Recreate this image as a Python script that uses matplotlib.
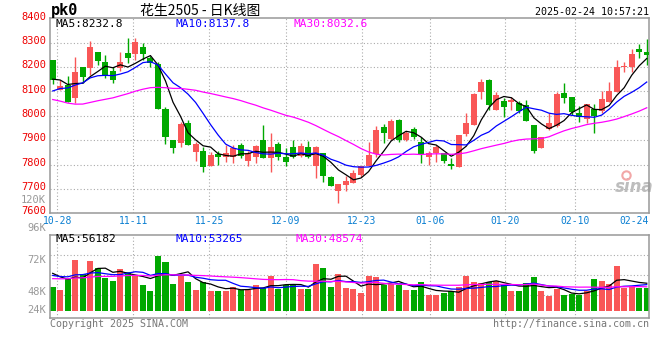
import matplotlib
matplotlib.use("Agg")
import matplotlib.pyplot as plt
import pandas as pd

# 花生2505 daily K, 10-28 .. 02-24 (80 sessions)
opens = [8229, 8106, 8126, 8072, 8199, 8195, 8260, 8219, 8184, 8195,
         8259, 8252, 8281, 8236, 8213, 8028, 7901, 7890, 7969, 7853,
         7856, 7796, 7844, 7830, 7833, 7881, 7816, 7830, 7901, 7826,
         7883, 7833, 7870, 7836, 7874, 7796, 7846, 7747, 7693, 7717,
         7726, 7758, 7795, 7844, 7952, 7904, 7983, 7901, 7946, 7893,
         7829, 7846, 7846, 7803, 7789, 7924, 7963, 8099, 8147, 8024,
         8061, 8058, 8051, 8045, 7963, 7866, 7945, 7958, 8095, 8077,
         8013, 7986, 8028, 8020, 8058, 8099, 8199, 8202, 8274, 8262]
highs = [8229, 8147, 8163, 8243, 8199, 8307, 8260, 8249, 8202, 8263,
         8320, 8320, 8300, 8245, 8219, 8038, 7901, 7976, 7983, 7892,
         7871, 7851, 7857, 7881, 7881, 7890, 7857, 7881, 7963, 7931,
         7892, 7867, 7901, 7887, 7897, 7877, 7846, 7755, 7721, 7751,
         7778, 7792, 7894, 7960, 7967, 7987, 7987, 7938, 7953, 7915,
         7857, 7881, 7846, 7826, 7922, 8010, 8093, 8150, 8150, 8099,
         8072, 8079, 8061, 8065, 7963, 7911, 8010, 8099, 8133, 8079,
         8040, 8049, 8047, 8102, 8140, 8229, 8222, 8273, 8295, 8314]
lows = [8129, 8106, 8058, 8054, 8133, 8167, 8210, 8154, 8133, 8185,
        8215, 8229, 8229, 8199, 8028, 7883, 7846, 7874, 7881, 7816,
        7771, 7796, 7799, 7812, 7808, 7826, 7792, 7806, 7826, 7771,
        7819, 7792, 7826, 7833, 7826, 7744, 7730, 7710, 7644, 7693,
        7723, 7748, 7795, 7833, 7887, 7901, 7894, 7898, 7905, 7808,
        7799, 7812, 7805, 7781, 7789, 7918, 7963, 8069, 8024, 8024,
        7994, 8024, 8010, 7980, 7849, 7866, 7942, 7956, 8054, 8004,
        7976, 7972, 7928, 8010, 8058, 8099, 8181, 8181, 8236, 8207]
closes = [8147, 8122, 8058, 8180, 8161, 8284, 8226, 8167, 8147, 8221,
          8239, 8303, 8254, 8218, 8028, 7911, 7867, 7965, 7881, 7883,
          7789, 7840, 7829, 7846, 7867, 7836, 7846, 7877, 7826, 7871,
          7830, 7812, 7833, 7877, 7833, 7870, 7755, 7710, 7721, 7734,
          7767, 7792, 7840, 7942, 7928, 7980, 7901, 7931, 7912, 7838,
          7846, 7874, 7816, 7796, 7922, 7969, 8090, 8140, 8045, 8086,
          8035, 8065, 8020, 7980, 7857, 7911, 7969, 8090, 8075, 8017,
          7994, 8047, 7999, 8069, 8102, 8200, 8206, 8255, 8263, 8251]
volumes = [48960, 42840, 64600, 103360, 74800, 101320, 87040, 67320, 61200, 85000,
           79560, 70720, 52360, 40800, 112200, 99960, 55080, 70040, 59160, 42840,
           59160, 40800, 40800, 40800, 48280, 42840, 42840, 52360, 46240, 70720,
           43520, 53040, 54400, 44880, 44880, 95200, 87040, 48960, 74800, 46240,
           44200, 36040, 70720, 68680, 52360, 55080, 52360, 42160, 42160, 58480,
           31960, 31960, 36040, 39440, 48960, 70720, 58480, 56440, 58480, 60520,
           52360, 40120, 40120, 56440, 68680, 40120, 29920, 44200, 31960, 34000,
           31960, 40120, 64600, 60520, 54400, 91120, 46240, 50320, 46240, 46240]

# sessions before the window, only feed the moving averages at the left edge
close_before = [8320, 8300, 8310, 8150, 8080, 8020, 7990, 7970, 7960, 7980,
                8000, 8010, 8030, 7985, 7960, 7950, 7970, 7990, 8000, 8010,
                8020, 8036, 8060, 8070, 8080, 8140, 8150, 8160, 8155]
vol_before = [52000, 61000, 55000, 66000, 58000, 49000, 63000, 57000, 60000, 54000,
              62000, 59000, 72000, 65000, 70000, 61000, 75000, 68000, 64000, 71000,
              66000, 69000, 63000, 70000, 70000, 78000, 90000, 81000, 83000]

date_labels = ["10-28", "11-11", "11-25", "12-09", "12-23", "01-06", "01-20", "02-10"]
date_pos = [0.6, 10.7, 20.8, 31.0, 41.1, 50.2, 60.2, 69.4]
price_levels = [7600, 7700, 7800, 7900, 8000, 8100, 8200, 8300, 8400]
price_legend = ["MA5:8232.8", "MA10:8137.8", "MA30:8032.6"]
vol_legend = ["MA5:56182", "MA10:53265", "MA30:48574"]
vol_labels = ["120K", "96K", "72K", "48K", "24K"]

RED = "#f95757"
GREEN = "#00a800"
GRID = "#aaaaaa"
BORDER = "#999999"
MA_COLORS = ["black", "#0000ff", "#ff00ff"]
MONO = "DejaVu Sans Mono"

W, H = 660, 360
fig = plt.figure(figsize=(6.6, 3.6), dpi=100)


def fx(x):
    return x / W


def fy(y):
    return 1 - y / H


def ftext(x, y, s, **kw):
    kw.setdefault("family", MONO)
    kw.setdefault("va", "center")
    fig.text(fx(x), fy(y), s, **kw)


ax = fig.add_axes([fx(50), fy(213.3), fx(649) - fx(50), fy(18.3) - fy(213.3)])
axv = fig.add_axes([fx(50), fy(318), fx(649) - fx(50), fy(234.7) - fy(318)])

n = len(closes)
xs = list(range(n))
cols = [RED if c >= o else GREEN for o, c in zip(opens, closes)]

for a in (ax, axv):
    a.set_xlim(-0.36, 79.3)
    a.set_xticks([])
    a.set_yticks([])
    for s in a.spines.values():
        s.set_color(BORDER)
        s.set_linewidth(1.1)
    for p in date_pos:
        a.axvline(p, color=GRID, lw=0.8, ls=(0, (1, 2)), zorder=0)

# price panel
ax.set_ylim(7600, 8400)
for lv in price_levels[1:-1]:
    ax.axhline(lv, color=GRID, lw=0.8, ls=(0, (1, 2)), zorder=0)

ax.vlines(xs, lows, highs, colors=cols, lw=1, zorder=2)
bodies = [max(abs(c - o), 3) for o, c in zip(opens, closes)]
ax.bar(xs, bodies, bottom=[min(o, c) for o, c in zip(opens, closes)],
       width=0.8, color=cols, zorder=3)

cl = pd.Series(close_before + closes)
for w, col in zip([5, 10, 30], MA_COLORS):
    ma = cl.rolling(w).mean().iloc[len(close_before):]
    ax.plot(xs, ma.values, color=col, lw=0.9, zorder=4)

# volume panel: baseline at pixel 310.7, 2040 lots per pixel
vpp = 2040


def vol_at(ypix):
    return (310.7 - ypix) * vpp


axv.set_ylim(vol_at(318), vol_at(234.7))
for yp in (255.3, 275.3, 295.3):
    axv.axhline(vol_at(yp), color=GRID, lw=0.8, ls=(0, (1, 2)), zorder=0)
axv.bar(xs, volumes, width=0.8, color=cols, zorder=2)
vs = pd.Series(vol_before + volumes)
for w, col in zip([5, 10, 30], MA_COLORS):
    ma = vs.rolling(w).mean().iloc[len(vol_before):]
    axv.plot(xs, ma.values, color=col, lw=0.9, zorder=3)

# price labels
for lv in price_levels:
    yp = 213.3 - (lv - 7600) * 195.0 / 800
    ftext(46, yp - 1.8, str(lv), ha="right", color="#ee0000", fontsize=7.5)

# volume labels (placed where the source draws them)
for s, yp in zip(vol_labels, [200, 228, 260.3, 292, 310.3]):
    ftext(46, yp, s, ha="right", color=BORDER, fontsize=7.5)

# date labels
for s, p in zip(date_labels, date_pos):
    ftext(52.7 + p * 7.52, 221.5, s, ha="center", color="#0a7fd2", fontsize=7)
ftext(649, 221.5, "02-24", ha="right", color="#0a7fd2", fontsize=7)

# legends
for s, x, col in zip(price_legend, [55, 175, 294], MA_COLORS):
    ftext(x, 23.8, s, ha="left", color=col, fontsize=8)
for s, x, col in zip(vol_legend, [55, 175, 295], MA_COLORS):
    ftext(x, 238.5, s, ha="left", color=col, fontsize=8)

# header
ftext(51, 11, "pk0", ha="left", color="black", fontsize=11, weight="bold")
ftext(140, 11, "花生2505 - 日K线图", ha="left", color="black", fontsize=10,
      family=["Noto Sans CJK SC", "DejaVu Sans"])
ftext(649, 12, "2025-02-24 10:57:21", ha="right", color="black", fontsize=7.2)

# footer
ftext(50, 324, "Copyright 2025 SINA.COM", ha="left", color="#777777", fontsize=7.2)
ftext(649, 324, "http://finance.sina.com.cn", ha="right", color="#777777", fontsize=7.2)

# watermark
ax.text(0.975, 0.135, "sina", transform=ax.transAxes, ha="center", va="center",
        color="#bdbdbd", fontsize=12, style="italic", weight="bold", zorder=1)
ax.plot([0.962], [0.195], transform=ax.transAxes, marker="o", ms=6, mfc="none",
        mec="#f2a7a7", mew=1.5, zorder=1)

fig.savefig("out.png", dpi=100, facecolor="white")
